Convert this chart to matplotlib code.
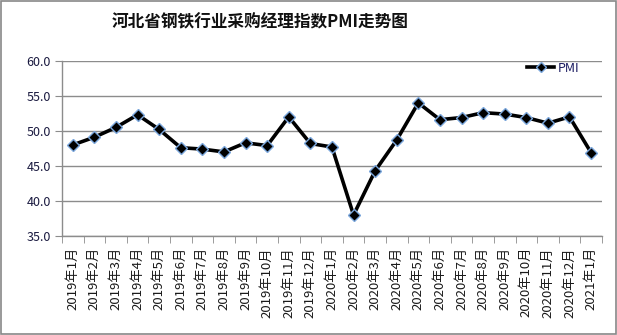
import matplotlib.pyplot as plt
from matplotlib.patches import Rectangle
import numpy as np

plt.rcParams['font.family'] = ['Noto Sans CJK SC', 'DejaVu Sans']

# PMI values
months = ['2019年1月', '2019年2月', '2019年3月', '2019年4月', '2019年5月', '2019年6月',
          '2019年7月', '2019年8月', '2019年9月', '2019年10月', '2019年11月', '2019年12月',
          '2020年1月', '2020年2月', '2020年3月', '2020年4月', '2020年5月', '2020年6月',
          '2020年7月', '2020年8月', '2020年9月', '2020年10月', '2020年11月', '2020年12月',
          '2021年1月']
pmi = [48.0, 49.1, 50.5, 52.3, 50.2, 47.6, 47.4, 47.0, 48.3, 47.9, 52.0, 48.2,
       47.7, 38.0, 44.3, 48.7, 54.0, 51.6, 51.9, 52.6, 52.4, 51.9, 51.1, 52.0,
       46.9]
y_ticks = [35.0, 40.0, 45.0, 50.0, 55.0, 60.0]

fig = plt.figure(figsize=(6.17, 3.35), dpi=100)
fig.patches.append(Rectangle((0.001, 0.002), 0.997, 0.995, transform=fig.transFigure,
                             fill=False, edgecolor='#888888', linewidth=1.2))

ax = fig.add_axes([0.1005, 0.2955, 0.875, 0.523])
x = np.arange(len(months))
ax.plot(x, pmi, color='black', linewidth=2.6, marker='D', markersize=6.5,
        markerfacecolor='black', markeredgecolor='#7aa6dc', markeredgewidth=1.0,
        label='PMI', zorder=3)

ax.set_xlim(-0.5, len(months) - 0.5)
ax.set_ylim(35, 60)
ax.set_yticks(y_ticks)
ax.set_yticklabels([f'{v:.1f}' for v in y_ticks], fontsize=9, color='#1a1a40')
ax.yaxis.grid(True, color='#8c8c8c', linewidth=1)
ax.set_axisbelow(True)

ax.set_xticks(x)
ax.set_xticklabels(months, rotation=90, fontsize=9.5, color='#1a1a1a')
ax.set_xticks(np.arange(len(months) + 1) - 0.5, minor=True)
ax.tick_params(axis='x', which='major', length=0, pad=8)
ax.tick_params(axis='x', which='minor', length=5, color='#8c8c8c')
ax.tick_params(axis='y', length=5, color='#8c8c8c', pad=3)

for s in ['top', 'right']:
    ax.spines[s].set_visible(False)
for s in ['left', 'bottom']:
    ax.spines[s].set_color('#8c8c8c')
    ax.spines[s].set_linewidth(1)

leg = ax.legend(loc='upper right', bbox_to_anchor=(0.98, 1.06), frameon=False,
                fontsize=9, handlelength=2.2, handletextpad=0.3, markerscale=0.8)
for t in leg.get_texts():
    t.set_color('#1a1a60')

fig.text(0.422, 0.932, '河北省钢铁行业采购经理指数PMI走势图', ha='center', va='center',
         fontsize=12, fontweight='bold', color='#111111')

fig.savefig('out.png', dpi=100)
